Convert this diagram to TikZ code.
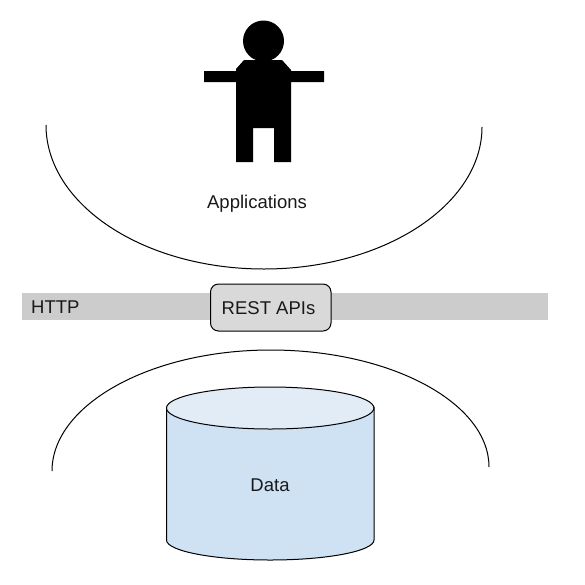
\documentclass[tikz,border=0pt]{standalone}
\usepackage{fontspec}
\setmainfont{Liberation Sans}
\tikzset{
  lbl/.style={font=\fontsize{18.5}{22}\selectfont,text=black!90,inner sep=0pt},
  arcline/.style={draw=black,line width=1pt},
  figure part/.style={fill=black,draw=none},
  band/.style={fill=black!20,draw=none},
  apibox/.style={fill=black!15,draw=black,line width=1pt,rounded corners=8pt},
  cylside/.style={fill=cylbody,draw=black,line width=1pt},
  cyltop/.style={fill=cyltopc,draw=black,line width=1pt}
}
\definecolor{cylbody}{HTML}{CFE2F3}
\definecolor{cyltopc}{HTML}{E2ECF7}
\begin{document}
\begin{tikzpicture}[x=1pt,y=-1pt]
\useasboundingbox (0,0) rectangle (585,584);
% person
\fill[figure part] (263.5,41) circle (20.5);
\fill[figure part] (244,60) -- (282,60) -- (291,70) -- (291,71) -- (324,71) -- (324,82) -- (291,82) -- (291,162) -- (274,162) -- (274,128) -- (253,128) -- (253,162) -- (236,162) -- (236,82) -- (204,82) -- (204,71) -- (236,71) -- (236,69) -- cycle;
% arcs
\draw[arcline] (46,125) .. controls (46,204.5) and (143.6,269) .. (264,269) .. controls (384.4,269) and (482,204.5) .. (482,127);
\draw[arcline] (52,471) .. controls (52,405) and (150,350) .. (270.5,350) .. controls (391,350) and (489,403) .. (489,467);
\node[lbl] (apps) at (257,204) {Applications};
% band
\fill[band] (22,293) rectangle (548,320);
\node[lbl,anchor=west] (http) at (31,307) {HTTP};
\draw[apibox] (210.5,284) rectangle (331,331);
\node[lbl] (rest) at (268.5,308.5) {REST APIs};
% cylinder
\draw[cylside] (166.5,407) -- (166.5,540) .. controls (166.5,551) and (213,560) .. (270.2,560) .. controls (327.5,560) and (374,551) .. (374,540) -- (374,407) -- cycle;
\draw[cyltop] (270.2,408) ellipse [x radius=103.7,y radius=21];
\node[lbl] (data) at (270,485) {Data};
\end{tikzpicture}
\end{document}
